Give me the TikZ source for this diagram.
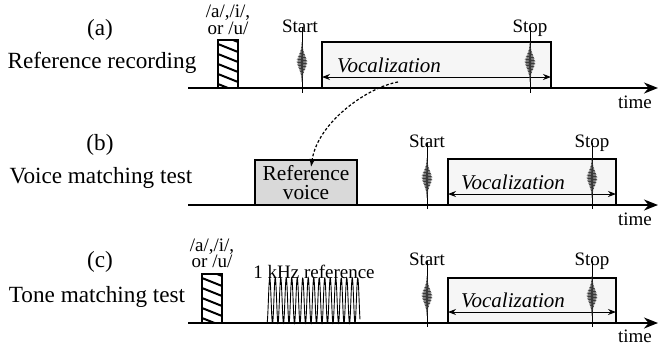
\documentclass[tikz,border=0pt]{standalone}
\usepackage{fontspec}
\setmainfont{Liberation Serif}[ItalicFont={Liberation Serif Italic}, BoldFont={Liberation Serif Bold}]
\usetikzlibrary{arrows.meta,positioning,calc}
\tikzset{
	timeaxis/.style={line width=1pt, -{Stealth[length=7pt,width=5.5pt]}},
	vocbox/.style={draw, line width=0.9pt, fill=gray!7},
	refbox/.style={draw, line width=0.9pt, fill=gray!30, minimum width=51pt,
		minimum height=22.5pt, inner sep=0pt, align=center,
		font=\fontsize{10.7}{9.6}\selectfont},
	spanarrow/.style={line width=0.5pt, {Stealth[length=4pt,width=3pt]}-{Stealth[length=4pt,width=3pt]}},
	hatchline/.style={line width=1pt},
	panellabel/.style={font=\fontsize{11.6}{13}\selectfont, anchor=base, inner sep=0pt},
	smalllabel/.style={font=\fontsize{9.5}{11}\selectfont, anchor=base, inner sep=0pt},
	voclabel/.style={font=\fontsize{10.5}{12}\selectfont\itshape, anchor=base, inner sep=0pt},
	copyarrow/.style={-{Latex[length=4pt,width=3pt]}, line width=0.6pt, dash pattern=on 1.4pt off 1pt},
	click/.pic={
		\draw[line width=0.5pt] (0,-35) -- (0,31);
		\draw[gray!45!black, line width=0.3pt]
		plot[domain=0:40, samples=400] ({4.5*exp(0-((\x-20)/10)^2)*sin(\x*240)}, {\x-20});
	}
}

\begin{document}
\begin{tikzpicture}[x=0.5pt, y=-0.5pt]
	\useasboundingbox (0,0) rectangle (658,350);
	
	%% -- (a) Reference recording
	\node[panellabel] (titlea) at (100,35) {(a)};
	\node[panellabel] (namea) at (102,68) {Reference recording};
	\coordinate (axisa) at (188,88);
	\coordinate (enda) at (658,88);
	
	\begin{scope}
		\clip (218,40) rectangle (238,88);
		\foreach \k in {0,...,5}
		\draw[hatchline] (218,34+10*\k) -- (238,42+10*\k);
	\end{scope}
	\draw[line width=0.9pt] (218,88) |- (238,40) -- (238,88);
	\node[smalllabel] (vowela1) at (228,17) {/a/,/i/,};
	\node[smalllabel] (vowela2) at (228,34) {or /u/};
	
	\draw[vocbox] (322,42) rectangle (551,88);
	\coordinate (vocla) at (322,77);
	\coordinate (vocra) at (551,77);
	\draw[spanarrow] (vocla) -- (vocra);
	\node[voclabel] (voca) at (389,72) {Vocalization};
	
	\pic at (302,62) {click};
	\pic at (530,62) {click};
	\node[smalllabel] (starta) at (300,32) {Start};
	\node[smalllabel] (stopa) at (530,32) {Stop};
	
	\draw[timeaxis] (axisa) -- (enda);
	\node[smalllabel] (timea) at (635,108) {time};
	
	%% -- (b) Voice matching test
	\node[panellabel] (titleb) at (100,150) {(b)};
	\node[panellabel] (nameb) at (101,183) {Voice matching test};
	\coordinate (axisb) at (188,205);
	\coordinate (endb) at (658,205);
	
	\node[refbox] (refvoice) at (306,182.5) {Reference\\voice};
	
	\draw[vocbox] (448,159) rectangle (616,205);
	\coordinate (voclb) at (448,194);
	\coordinate (vocrb) at (616,194);
	\draw[spanarrow] (voclb) -- (vocrb);
	\node[voclabel] (vocb) at (513,189) {Vocalization};
	
	\pic at (427,178) {click};
	\pic at (592,178) {click};
	\node[smalllabel] (startb) at (427,147) {Start};
	\node[smalllabel] (stopb) at (592,147) {Stop};
	
	\draw[timeaxis] (axisb) -- (endb);
	\node[smalllabel] (timeb) at (635,225) {time};
	
	%% -- copy of the recorded voice
	\coordinate (copyfrom) at (398,82);
	\draw[copyarrow] (copyfrom) .. controls (368,87) and (318,122) .. ($(refvoice.north)+(5,8)$);
	
	%% -- (c) Tone matching test
	\node[panellabel] (titlec) at (100,267) {(c)};
	\node[panellabel] (namec) at (97,302) {Tone matching test};
	\coordinate (axisc) at (188,323);
	\coordinate (endc) at (658,323);
	
	\begin{scope}
		\clip (202,274) rectangle (222,323);
		\foreach \k in {0,...,5}
		\draw[hatchline] (202,268+10*\k) -- (222,276+10*\k);
	\end{scope}
	\draw[line width=0.9pt] (202,323) |- (222,274) -- (222,323);
	\node[smalllabel] (vowelc1) at (212,251) {/a/,/i/,};
	\node[smalllabel] (vowelc2) at (212,267) {or /u/};
	
	\draw[line width=0.45pt] plot[domain=0:93, samples=400] ({267+\x}, {300.5+22.5*cos(\x/5.5*360)});
	\node[smalllabel] (tone) at (314,278) {1 kHz reference};
	
	\draw[vocbox] (448,278) rectangle (616,323);
	\coordinate (voclc) at (448,312);
	\coordinate (vocrc) at (616,312);
	\draw[spanarrow] (voclc) -- (vocrc);
	\node[voclabel] (vocc) at (513,307) {Vocalization};
	
	\pic at (427,296) {click};
	\pic at (592,296) {click};
	\node[smalllabel] (startc) at (427,265) {Start};
	\node[smalllabel] (stopc) at (592,265) {Stop};
	
	\draw[timeaxis] (axisc) -- (endc);
	\node[smalllabel] (timec) at (635,342) {time};
	
\end{tikzpicture}
\end{document}
